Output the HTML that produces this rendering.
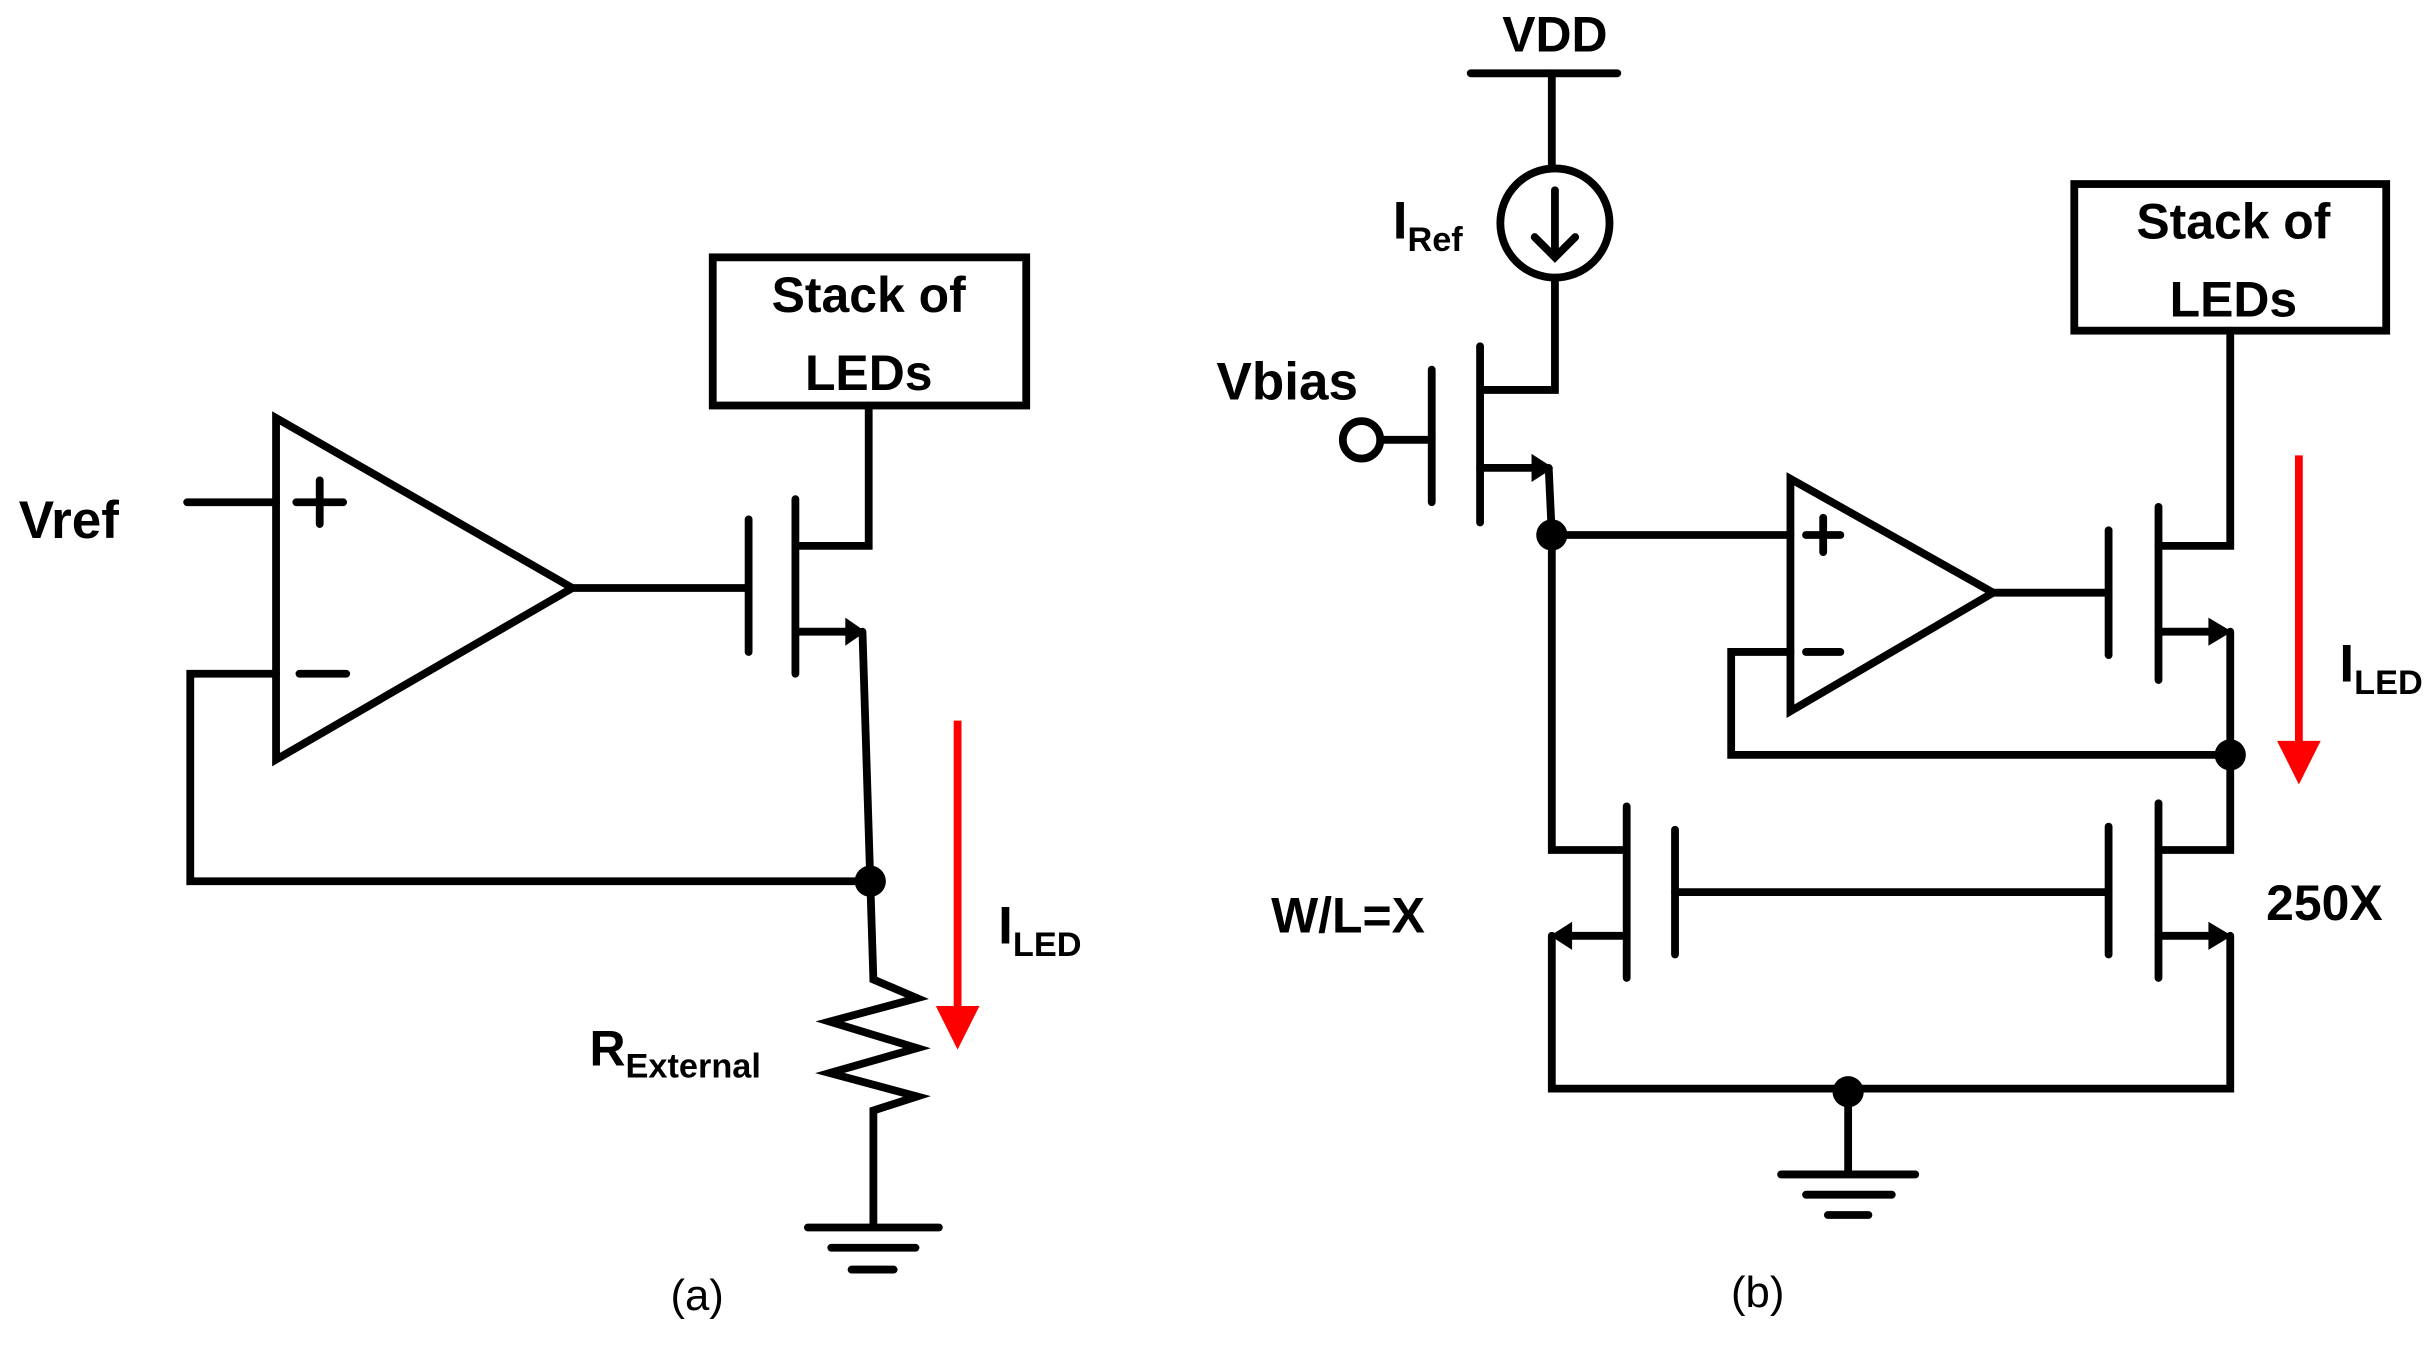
<!DOCTYPE html>
<html><head><meta charset="utf-8"><style>
html,body{margin:0;padding:0;background:#fff;}
svg{display:block;}
text{font-family:"Liberation Sans",sans-serif;font-weight:bold;fill:#000;}
</style></head><body>
<svg width="2433" height="1346" viewBox="0 0 1560 863" preserveAspectRatio="none" xmlns="http://www.w3.org/2000/svg">
<g fill="none" stroke="#000" stroke-width="5" stroke-linecap="round" stroke-linejoin="miter">
<rect x="457" y="165" width="201" height="95"/>
<polyline points="557,260 557,350 510,350"/>
<line x1="510" y1="320" x2="510" y2="432"/>
<line x1="480" y1="333" x2="480" y2="418"/>
<polyline points="510,405 548,405"/>
<polyline points="553,405 558,565"/>
<polygon points="177,268 177,487 367,377"/>
<line x1="367" y1="377" x2="480" y2="377"/>
<line x1="120" y1="322" x2="177" y2="322"/>
<line x1="190" y1="322" x2="220" y2="322"/>
<line x1="205" y1="308" x2="205" y2="336"/>
<line x1="192" y1="432" x2="222" y2="432"/>
<polyline points="177,432 122,432 122,565 558,565"/>
<polyline points="558,565 560,628 588,640 532,655 588,672 532,688 588,703 560,712 560,785"/>
<line x1="518" y1="787" x2="602" y2="787"/>
<line x1="533" y1="800" x2="587" y2="800"/>
<line x1="546" y1="814" x2="573" y2="814"/>
<line x1="943" y1="47" x2="1037" y2="47"/>
<line x1="995" y1="47" x2="995" y2="108"/>
<circle cx="997" cy="143" r="35"/>
<line x1="997" y1="122" x2="997" y2="164"/>
<polyline points="984,152 997,165 1010,152"/>
<polyline points="997,178 997,250 950,250"/>
<line x1="949" y1="222" x2="949" y2="335"/>
<line x1="918" y1="237" x2="918" y2="322"/>
<line x1="885" y1="282" x2="918" y2="282"/>
<circle cx="873" cy="282" r="12"/>
<line x1="949" y1="300" x2="985" y2="300"/>
<polyline points="993,300 995,343 1148,343"/>
<polygon points="1148,307 1148,456 1278,380"/>
<line x1="1158" y1="343" x2="1180" y2="343"/>
<line x1="1169" y1="332" x2="1169" y2="354"/>
<line x1="1158" y1="418" x2="1180" y2="418"/>
<line x1="1278" y1="380" x2="1352" y2="380"/>
<line x1="1352" y1="340" x2="1352" y2="420"/>
<line x1="1384" y1="325" x2="1384" y2="436"/>
<polyline points="1384,350 1430,350 1430,212"/>
<rect x="1330" y="118" width="200" height="94"/>
<line x1="1384" y1="405" x2="1420" y2="405"/>
<polyline points="1430,405 1430,545 1384,545"/>
<polyline points="1430,484 1110,484 1110,418 1148,418"/>
<line x1="1384" y1="515" x2="1384" y2="627"/>
<line x1="1352" y1="530" x2="1352" y2="612"/>
<line x1="1384" y1="600" x2="1420" y2="600"/>
<polyline points="1430,600 1430,698 995,698 995,600"/>
<polyline points="995,343 995,545 1043,545"/>
<line x1="1043" y1="517" x2="1043" y2="627"/>
<line x1="1074" y1="532" x2="1074" y2="612"/>
<line x1="1043" y1="600" x2="1005" y2="600"/>
<line x1="1074" y1="572" x2="1352" y2="572"/>
<line x1="1185" y1="700" x2="1185" y2="752"/>
<line x1="1142" y1="753" x2="1228" y2="753"/>
<line x1="1158" y1="766" x2="1213" y2="766"/>
<line x1="1172" y1="779" x2="1198" y2="779"/>
</g>
<g fill="#000">
<polygon points="542,396 555,405 542,414"/>
<polygon points="982,291 996,300 982,309"/>
<polygon points="1416,396 1431,405 1416,414"/>
<polygon points="1416,591 1431,600 1416,609"/>
<polygon points="1008,591 994,600 1008,609"/>
<circle cx="558" cy="565" r="10"/>
<circle cx="995" cy="343" r="10"/>
<circle cx="1430" cy="484" r="10"/>
<circle cx="1185" cy="700" r="10"/>
</g>
<g stroke="#f00" stroke-width="5" fill="#f00">
<line x1="614" y1="462" x2="614" y2="648"/>
<polygon points="600,645 628,645 614,673" stroke="none"/>
<line x1="1474" y1="292" x2="1474" y2="478"/>
<polygon points="1460,475 1488,475 1474,503" stroke="none"/>
</g>
<text x="557" y="200" font-size="32" text-anchor="middle">Stack of</text>
<text x="557" y="250" font-size="32" text-anchor="middle">LEDs</text>
<text x="1432" y="153" font-size="32" text-anchor="middle">Stack of</text>
<text x="1432" y="203" font-size="32" text-anchor="middle">LEDs</text>
<text x="12" y="345" font-size="34">Vref</text>
<text x="640" y="605" font-size="34">I<tspan font-size="22" dy="8">LED</tspan></text>
<text x="378" y="683" font-size="32">R<tspan font-size="22" dy="8">External</tspan></text>
<text x="997" y="33" font-size="32" text-anchor="middle">VDD</text>
<text x="893" y="153" font-size="34">I<tspan font-size="22" dy="8">Ref</tspan></text>
<text x="780" y="256" font-size="34">Vbias</text>
<text x="1500" y="437" font-size="34">I<tspan font-size="22" dy="8">LED</tspan></text>
<text x="1453" y="590" font-size="32">250X</text>
<text x="815" y="598" font-size="32">W/L=X</text>
<text x="447" y="840" font-size="28" text-anchor="middle" style="font-weight:normal">(a)</text>
<text x="1127" y="838" font-size="28" text-anchor="middle" style="font-weight:normal">(b)</text>
</svg>
</body></html>
